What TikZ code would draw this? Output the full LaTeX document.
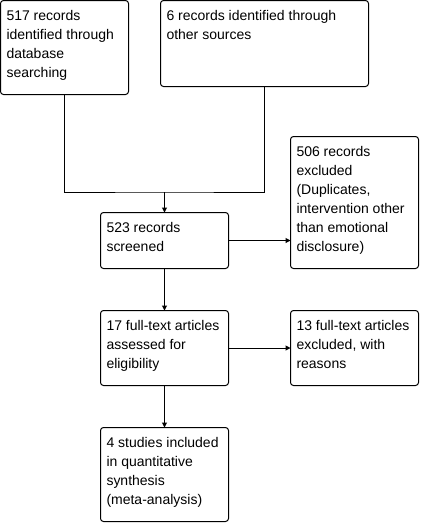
\documentclass[tikz,border=0pt]{standalone}
\usepackage{fontspec}
\setmainfont{Liberation Sans}
\usetikzlibrary{arrows.meta}
\newcommand{\bxt}[3]{\parbox[t][#2][t]{#1}{\raggedright\fontsize{14pt}{19pt}\selectfont\rule{0pt}{20pt}#3}}
\tikzset{
  box/.style={draw, line width=1pt, rounded corners=3pt, anchor=north west, inner xsep=6pt, inner ysep=0pt, outer sep=0pt},
  arr/.style={line width=1pt, -{Triangle[length=5pt,width=5pt]}},
  conn/.style={line width=1pt}
}
\begin{document}
\begin{tikzpicture}[x=1pt,y=-1pt]
\useasboundingbox (0,0) rectangle (422,523);
\node[box] (b1) at (0.5,0.5) {\bxt{116pt}{94pt}{517 records\\identified through\\database\\searching}};
\node[box] (b2) at (160.5,0.5) {\bxt{196pt}{86pt}{6 records identified through\\other sources}};
\node[box] (b3) at (290.5,136.5) {\bxt{116pt}{132pt}{506 records\\excluded\\(Duplicates,\\intervention other\\than emotional\\disclosure)}};
\node[box] (b4) at (100.5,212.5) {\bxt{116pt}{56pt}{523 records\\screened}};
\node[box] (b5) at (100.5,310.5) {\bxt{116pt}{75pt}{17 full-text articles\\assessed for\\eligibility}};
\node[box] (b6) at (290.5,310.5) {\bxt{116pt}{75pt}{13 full-text articles\\excluded, with\\reasons}};
\node[box] (b7) at (100.5,427.5) {\bxt{116pt}{94pt}{4 studies included\\in quantitative\\synthesis\\(meta-analysis)}};
\coordinate (j) at (b4.north |- 0,192);
\draw[conn] (b1.south) |- (j) -| (b2.south);
\draw[arr] (j) -- (b4.north);
\draw[arr] (b4.east) -- (b4.east -| b3.west);
\draw[arr] (b4.south) -- (b5.north);
\draw[arr] (b5.east) -- (b5.east -| b6.west);
\draw[arr] (b5.south) -- (b7.north);
\end{tikzpicture}
\end{document}
